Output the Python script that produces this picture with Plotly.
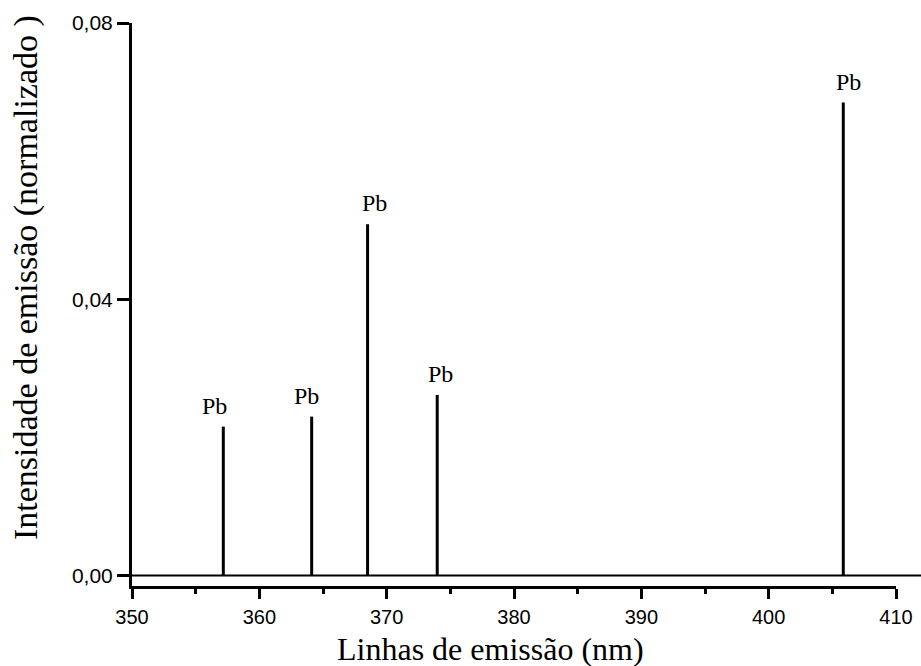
import plotly.graph_objects as go

# Data
wavelengths = [357.17, 364.11, 368.50, 373.97, 405.86]   # nm
intensities = [0.02155, 0.0230, 0.05086, 0.02614, 0.06847]
labels = ["Pb", "Pb", "Pb", "Pb", "Pb"]
x_ticks = [350, 360, 370, 380, 390, 400, 410]
y_ticks = [0.00, 0.04, 0.08]
x_title = "Linhas de emissão (nm)"
y_title = "Intensidade de emissão (normalizado )"

# Build stick lines
xs, ys = [], []
for w, h in zip(wavelengths, intensities):
    xs += [w, w, None]
    ys += [0, h, None]

fig = go.Figure()
fig.add_trace(go.Scatter(x=xs, y=ys, mode="lines",
                         line=dict(color="black", width=3),
                         hoverinfo="skip", showlegend=False))

label_xshift = [-9, -5, 7, 3, 5]
for w, h, t, dx in zip(wavelengths, intensities, labels, label_xshift):
    fig.add_annotation(x=w, y=h, text=t, showarrow=False,
                       xanchor="center", yanchor="bottom", yshift=6, xshift=dx,
                       font=dict(family="Liberation Serif", size=24, color="black"))

# axis titles (placed like the reference, slightly off-centre)
fig.add_annotation(text=x_title, xref="paper", yref="paper", x=0.4686, y=-0.1119,
                   xanchor="center", yanchor="middle", showarrow=False,
                   font=dict(family="Liberation Serif", size=32, color="black"))
fig.add_annotation(text=y_title, xref="paper", yref="paper", x=-0.1387, y=0.547,
                   xanchor="center", yanchor="middle", showarrow=False, textangle=-90,
                   font=dict(family="Liberation Serif", size=34, color="black"))

# baseline at zero extending to the right edge
fig.add_shape(type="line", xref="paper", yref="y", x0=0, x1=789 / 764,
              y0=0, y1=0, line=dict(color="black", width=2))

fig.update_layout(
    width=921, height=666,
    margin=dict(l=132, r=25, t=23, b=80),
    paper_bgcolor="white", plot_bgcolor="white",
    separators=",.",
    showlegend=False,
    xaxis=dict(
        range=[350, 410], tickvals=x_ticks, ticks="outside", ticklen=10,
        tickwidth=3, tickcolor="black", showline=True, linewidth=3,
        linecolor="black", showgrid=False, zeroline=False, automargin=False,
        ticklabelstandoff=1,
        tickfont=dict(family="Liberation Sans", size=20, color="black"),
        minor=dict(dtick=5, tick0=350, ticks="outside", ticklen=5,
                   tickwidth=3, tickcolor="black", showgrid=False),
    ),
    yaxis=dict(
        range=[-0.00153, 0.08], tickvals=y_ticks, tickformat=".2f",
        ticks="outside", ticklen=12, tickwidth=3, tickcolor="black",
        showline=True, linewidth=3, linecolor="black", showgrid=False,
        zeroline=False, automargin=False,
        tickfont=dict(family="Liberation Sans", size=21, color="black"),
    ),
)

fig.write_html("out.html", config={"displayModeBar": False},
               post_script="document.body.style.margin='0';document.body.style.overflow='hidden';")
